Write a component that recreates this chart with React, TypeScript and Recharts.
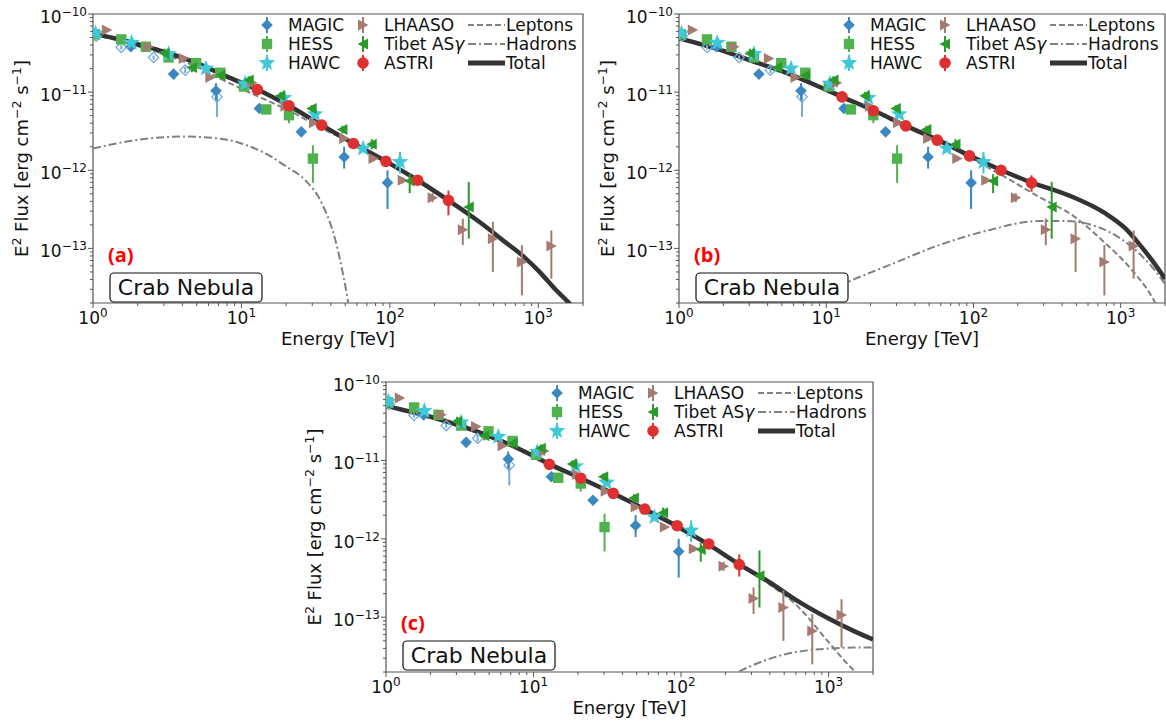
import React from 'react';
import { ComposedChart, Scatter, Line, XAxis, YAxis, ErrorBar, ReferenceArea } from 'recharts';

const FONT = "'DejaVu Sans', Verdana, sans-serif";
const AXIS = '#555555';

// ---------- tick values ----------
const xTicks = [1, 2, 3, 4, 5, 6, 7, 8, 9, 10, 20, 30, 40, 50, 60, 70, 80, 90, 100, 200, 300, 400, 500, 600, 700, 800, 900, 1000, 2000];
const yTicks = [
  2e-14, 3e-14, 4e-14, 5e-14, 6e-14, 7e-14, 8e-14, 9e-14,
  1e-13, 2e-13, 3e-13, 4e-13, 5e-13, 6e-13, 7e-13, 8e-13, 9e-13,
  1e-12, 2e-12, 3e-12, 4e-12, 5e-12, 6e-12, 7e-12, 8e-12, 9e-12,
  1e-11, 2e-11, 3e-11, 4e-11, 5e-11, 6e-11, 7e-11, 8e-11, 9e-11, 1e-10,
];
const xDomain = [1, 2000];
const yDomain = [2e-14, 1e-10];

// ---------- observational data (E in TeV, E^2 flux in erg cm^-2 s^-1) ----------
const magicE = [1.03, 1.8, 3.49, 6.74, 13.2, 25.3, 49.2, 96.4];
const magicF = [5.6e-11, 3.81e-11, 1.7e-11, 1.04e-11, 6.18e-12, 3.1e-12, 1.48e-12, 6.9e-13];
const magicLo = [5.3e-11, 3.6e-11, 1.6e-11, 7.6e-12, 5.8e-12, 2.85e-12, 1.05e-12, 3.2e-13];
const magicHi = [5.9e-11, 4.0e-11, 1.8e-11, 1.3e-11, 6.6e-12, 3.35e-12, 2.0e-12, 1.0e-12];

const magicOpenE = [1.05, 1.55, 2.56, 4.18, 6.85];
const magicOpenF = [5.2e-11, 3.74e-11, 2.78e-11, 1.91e-11, 8.7e-12];
const magicOpenLo = [4.95e-11, 3.5e-11, 2.6e-11, 1.75e-11, 4.8e-12];
const magicOpenHi = [5.45e-11, 4.0e-11, 2.95e-11, 2.1e-11, 1.0e-11];

const hessE = [1.03, 1.55, 2.27, 3.23, 4.95, 7.2, 10.4, 14.7, 20.9, 30.3];
const hessF = [5.5e-11, 4.73e-11, 3.81e-11, 2.78e-11, 2.35e-11, 1.77e-11, 1.18e-11, 6.0e-12, 5.07e-12, 1.41e-12];
const hessLo = [5.2e-11, 4.45e-11, 3.6e-11, 2.6e-11, 2.2e-11, 1.62e-11, 1.08e-11, 5.4e-12, 4.0e-12, 6.9e-13];
const hessHi = [5.8e-11, 5.0e-11, 4.0e-11, 2.95e-11, 2.5e-11, 1.92e-11, 1.28e-11, 6.6e-12, 5.9e-12, 2.09e-12];

const hawcE = [1.04, 1.82, 3.23, 5.77, 10.6, 19.3, 31.3, 66.0, 117];
const hawcF = [5.65e-11, 4.28e-11, 3.07e-11, 2.01e-11, 1.29e-11, 8.45e-12, 5.22e-12, 1.9e-12, 1.28e-12];
const hawcLo = [5.4e-11, 4.05e-11, 2.9e-11, 1.9e-11, 1.2e-11, 7.9e-12, 4.85e-12, 1.72e-12, 9.05e-13];
const hawcHi = [5.9e-11, 4.5e-11, 3.25e-11, 2.12e-11, 1.38e-11, 9.0e-12, 5.6e-12, 2.08e-12, 1.72e-12];

const lhaasoE = [1.24, 2.37, 4.08, 6.17, 11.8, 19.8, 30.8, 49.2, 77.6, 122, 194, 310, 494, 775, 1224];
const lhaasoF = [6.24e-11, 3.81e-11, 2.7e-11, 1.54e-11, 1.32e-11, 6.62e-12, 4.05e-12, 2.55e-12, 1.41e-12, 7.45e-13, 4.46e-13, 1.73e-13, 1.33e-13, 6.68e-14, 1.07e-13];
const lhaasoLo = [5.9e-11, 3.6e-11, 2.55e-11, 1.45e-11, 1.15e-11, 6.2e-12, 3.8e-12, 2.35e-12, 1.3e-12, 6.8e-13, 3.9e-13, 1.1e-13, 5.0e-14, 2.5e-14, 4.1e-14];
const lhaasoHi = [6.6e-11, 4.0e-11, 2.85e-11, 1.65e-11, 1.5e-11, 7.1e-12, 4.3e-12, 2.75e-12, 1.52e-12, 8.1e-13, 5.1e-13, 2.4e-13, 2.2e-13, 1.1e-13, 1.7e-13];

const tibetE = [3.03, 4.64, 7.22, 11.2, 18.3, 29.7, 47.9, 75.5, 136, 340];
const tibetF = [3.13e-11, 2.07e-11, 1.65e-11, 1.43e-11, 8.97e-12, 6.18e-12, 3.32e-12, 2.15e-12, 7.3e-13, 3.39e-13];
const tibetLo = [2.7e-11, 1.8e-11, 1.45e-11, 1.28e-11, 8.1e-12, 5.6e-12, 2.95e-12, 1.85e-12, 5.1e-13, 1.33e-13];
const tibetHi = [3.6e-11, 2.35e-11, 1.85e-11, 1.6e-11, 1.0e-11, 6.8e-12, 3.7e-12, 2.5e-12, 8.9e-13, 7.1e-13];

// ASTRI points (one set per model panel)
const astriE = [12.8, 20.9, 34.7, 56.8, 94.0, 154, 248];
const astriFA = [1.08e-11, 6.68e-12, 3.78e-12, 2.2e-12, 1.3e-12, 7.45e-13, 4.12e-13];
const astriLoA = [1.0e-11, 6.2e-12, 3.5e-12, 2.05e-12, 1.18e-12, 6.6e-13, 2.65e-13];
const astriHiA = [1.16e-11, 7.2e-12, 4.05e-12, 2.35e-12, 1.42e-12, 8.4e-13, 5.5e-13];
const astriFB = [8.7e-12, 5.77e-12, 3.7e-12, 2.43e-12, 1.53e-12, 1.0e-12, 6.9e-13];
const astriLoB = [8.1e-12, 5.35e-12, 3.45e-12, 2.27e-12, 1.4e-12, 8.9e-13, 5.3e-13];
const astriHiB = [9.3e-12, 6.2e-12, 3.95e-12, 2.6e-12, 1.66e-12, 1.12e-12, 8.6e-13];
const astriFC = [8.9e-12, 5.93e-12, 3.8e-12, 2.39e-12, 1.47e-12, 8.6e-13, 4.68e-13];
const astriLoC = [8.3e-12, 5.5e-12, 3.55e-12, 2.23e-12, 1.35e-12, 7.6e-13, 3.3e-13];
const astriHiC = [9.5e-12, 6.35e-12, 4.05e-12, 2.55e-12, 1.6e-12, 9.7e-13, 6.3e-13];

// ---------- model curves ----------
const totAE = [1, 1.5, 2, 3, 5, 8, 12.8, 20.9, 34.7, 56.8, 94, 154, 248, 400, 600, 800, 1000, 1300, 1650, 2000];
const totAF = [5.6e-11, 4.75e-11, 4.1e-11, 3.3e-11, 2.35e-11, 1.58e-11, 1.08e-11, 6.68e-12, 3.78e-12, 2.2e-12, 1.3e-12, 7.45e-13, 4.12e-13, 2.19e-13, 1.2e-13, 7.8e-14, 5.2e-14, 3.0e-14, 1.9e-14, 1.2e-14];
const lepAE = [1, 1.5, 2, 3, 5, 8, 12.8, 20.9, 34.7, 56.8, 94, 154, 248, 400, 600, 800, 1000, 1300, 1650, 2000];
const lepAF = [5.4e-11, 4.52e-11, 3.86e-11, 3.05e-11, 2.1e-11, 1.35e-11, 8.9e-12, 5.8e-12, 3.45e-12, 2.18e-12, 1.3e-12, 7.45e-13, 4.12e-13, 2.19e-13, 1.2e-13, 7.8e-14, 5.2e-14, 3.0e-14, 1.9e-14, 1.2e-14];
const hadAE = [1, 2, 4, 7, 10, 16, 20, 27, 35, 43, 48, 52, 56];
const hadAF = [1.9e-12, 2.45e-12, 2.7e-12, 2.55e-12, 2.2e-12, 1.48e-12, 1.12e-12, 7.4e-13, 3.7e-13, 1.26e-13, 5.0e-14, 2.2e-14, 8e-15];

const totBE = [1, 2, 3, 5, 8, 12.8, 21.2, 34.8, 57.6, 94.4, 155, 251, 342, 468, 788, 1076, 1325, 1630, 2000];
const totBF = [4.87e-11, 3.38e-11, 2.57e-11, 1.86e-11, 1.29e-11, 8.7e-12, 5.77e-12, 3.7e-12, 2.43e-12, 1.53e-12, 1.0e-12, 6.9e-13, 5.7e-13, 4.58e-13, 2.8e-13, 1.8e-13, 1.16e-13, 7.07e-14, 4.1e-14];
const lepBE = [1, 2, 3, 5, 8, 12.8, 21.2, 34.8, 57.6, 94.4, 155, 278, 468, 788, 1194, 1630, 1720, 2000];
const lepBF = [4.87e-11, 3.38e-11, 2.57e-11, 1.86e-11, 1.29e-11, 8.7e-12, 5.77e-12, 3.68e-12, 2.37e-12, 1.45e-12, 8.7e-13, 4.58e-13, 2.67e-13, 1.16e-13, 5.27e-14, 2.4e-14, 2.0e-14, 1.2e-14];
const hadBE = [5, 6.6, 10, 13.6, 28.2, 58.4, 127, 278, 422, 788, 1194, 1630, 2000];
const hadBF = [1.4e-14, 2.0e-14, 2.7e-14, 3.6e-14, 6.35e-14, 1.1e-13, 1.71e-13, 2.24e-13, 2.24e-13, 1.71e-13, 1.04e-13, 5.8e-14, 3.5e-14];

const totCE = [1, 2, 5, 8, 12.9, 20.9, 34.5, 56.6, 92.5, 151, 250, 400, 600, 1000, 1500, 2000];
const totCF = [4.96e-11, 3.6e-11, 2.04e-11, 1.4e-11, 8.9e-12, 5.93e-12, 3.8e-12, 2.39e-12, 1.47e-12, 8.6e-13, 4.68e-13, 2.77e-13, 1.66e-13, 9.6e-14, 6.6e-14, 5.2e-14];
const lepCE = [1, 2, 5, 8, 12.9, 20.9, 34.5, 56.6, 92.5, 151, 250, 400, 600, 1000, 1300, 1700, 2000];
const lepCF = [4.96e-11, 3.6e-11, 2.04e-11, 1.4e-11, 8.9e-12, 5.93e-12, 3.8e-12, 2.39e-12, 1.47e-12, 8.6e-13, 4.6e-13, 2.6e-13, 1.45e-13, 4.8e-14, 2.7e-14, 1.6e-14, 1.1e-14];
const hadCE = [200, 244, 300, 518, 942, 1500, 2000];
const hadCF = [1.6e-14, 2.0e-14, 2.4e-14, 3.4e-14, 3.95e-14, 4.1e-14, 4.1e-14];

// ---------- colours ----------
const C_MAGIC = '#3a87c2';
const C_MAGIC_OPEN = '#74acd8';
const C_HESS = '#4fb24f';
const C_HAWC = '#3fc8d8';
const C_LHAASO = '#a57a70';
const C_TIBET = '#2a9a2a';
const C_ASTRI = '#dd3030';
const C_LINE = '#808080';
const C_TOTAL = '#333333';

// ---------- helpers ----------
const pts = (E: number[], F: number[], lo: number[], hi: number[]) =>
  E.map((e, i) => ({ e, f: F[i], err: [F[i] - lo[i], hi[i] - F[i]] }));
const curve = (E: number[], F: number[]) => E.map((e, i) => ({ e, f: F[i] }));

const starPath = (cx: number, cy: number, R: number) => {
  let d = '';
  for (let i = 0; i < 10; i++) {
    const r = i % 2 === 0 ? R : R * 0.42;
    const a = -Math.PI / 2 + (i * Math.PI) / 5;
    d += (i === 0 ? 'M' : 'L') + (cx + r * Math.cos(a)).toFixed(2) + ',' + (cy + r * Math.sin(a)).toFixed(2);
  }
  return d + 'Z';
};

const drawMarker = (kind: string, cx: number, cy: number) => {
  switch (kind) {
    case 'diamond':
      return <path d={`M${cx},${cy - 5.8}L${cx + 5.8},${cy}L${cx},${cy + 5.8}L${cx - 5.8},${cy}Z`} fill={C_MAGIC} />;
    case 'diamondOpen':
      return <path d={`M${cx},${cy - 5.2}L${cx + 5.2},${cy}L${cx},${cy + 5.2}L${cx - 5.2},${cy}Z`} fill="none" stroke={C_MAGIC_OPEN} strokeWidth={1.3} />;
    case 'square':
      return <rect x={cx - 5.2} y={cy - 5.2} width={10.4} height={10.4} fill={C_HESS} />;
    case 'star':
      return <path d={starPath(cx, cy, 8.8)} fill={C_HAWC} />;
    case 'triRight':
      return <path d={`M${cx + 5.5},${cy}L${cx - 5},${cy - 5.5}L${cx - 5},${cy + 5.5}Z`} fill={C_LHAASO} />;
    case 'triLeft':
      return <path d={`M${cx - 5.5},${cy}L${cx + 5},${cy - 5.5}L${cx + 5},${cy + 5.5}Z`} fill={C_TIBET} />;
    case 'circle':
      return <circle cx={cx} cy={cy} r={5.8} fill={C_ASTRI} />;
    default:
      return null;
  }
};

const shapeOf = (kind: string) => (props: any) => {
  if (props.cx == null || props.cy == null) return <g />;
  return <g>{drawMarker(kind, props.cx, props.cy)}</g>;
};

const expStr = (e: number) => (e < 0 ? '\u2212' + Math.abs(e) : String(e));

const XTick = (props: any) => {
  const { x, y, payload } = props;
  const v = payload.value as number;
  const lg = Math.log10(v);
  const e = Math.round(lg);
  const major = Math.abs(lg - e) < 1e-6;
  return (
    <g>
      <line x1={x} x2={x} y1={y} y2={y + (major ? 5 : 3)} stroke={AXIS} strokeWidth={1} />
      {major && (
        <text x={x} y={y + 21} textAnchor="middle" fontFamily={FONT} fontSize={17} fill="#111">
          10<tspan dy={-7} fontSize={12}>{expStr(e)}</tspan>
        </text>
      )}
    </g>
  );
};

const YTick = (props: any) => {
  const { x, y, payload } = props;
  const v = payload.value as number;
  const lg = Math.log10(v);
  const e = Math.round(lg);
  const major = Math.abs(lg - e) < 1e-6;
  return (
    <g>
      <line x1={x} x2={x - (major ? 5 : 3)} y1={y} y2={y} stroke={AXIS} strokeWidth={1} />
      {major && (
        <text x={x - 6} y={y + 9} textAnchor="end" fontFamily={FONT} fontSize={17} fill="#111">
          10<tspan dy={-7} fontSize={12}>{expStr(e)}</tspan>
        </text>
      )}
    </g>
  );
};

type PanelDef = {
  tag: string;
  left: number;
  top: number;
  w: number;
  h: number;
  astri: { e: number; f: number; err: number[] }[];
  tot: { e: number; f: number }[];
  lep: { e: number; f: number }[];
  had: { e: number; f: number }[];
};

const panels: PanelDef[] = [
  { tag: '(a)', left: 93, top: 14, w: 490, h: 289, astri: pts(astriE, astriFA, astriLoA, astriHiA), tot: curve(totAE, totAF), lep: curve(lepAE, lepAF), had: curve(hadAE, hadAF) },
  { tag: '(b)', left: 679, top: 14, w: 486, h: 289, astri: pts(astriE, astriFB, astriLoB, astriHiB), tot: curve(totBE, totBF), lep: curve(lepBE, lepBF), had: curve(hadBE, hadBF) },
  { tag: '(c)', left: 386, top: 382, w: 487, h: 290, astri: pts(astriE, astriFC, astriLoC, astriHiC), tot: curve(totCE, totCF), lep: curve(lepCE, lepCF), had: curve(hadCE, hadCF) },
];

const magicPts = pts(magicE, magicF, magicLo, magicHi);
const magicOpenPts = pts(magicOpenE, magicOpenF, magicOpenLo, magicOpenHi);
const hessPts = pts(hessE, hessF, hessLo, hessHi);
const hawcPts = pts(hawcE, hawcF, hawcLo, hawcHi);
const lhaasoPts = pts(lhaasoE, lhaasoF, lhaasoLo, lhaasoHi);
const tibetPts = pts(tibetE, tibetF, tibetLo, tibetHi);

const legendCols = [
  [
    { label: 'MAGIC', kind: 'diamond', color: C_MAGIC },
    { label: 'HESS', kind: 'square', color: C_HESS },
    { label: 'HAWC', kind: 'star', color: C_HAWC },
  ],
  [
    { label: 'LHAASO', kind: 'triRight', color: C_LHAASO },
    { label: 'Tibet AS', kind: 'triLeft', color: C_TIBET, greek: '\u03b3' },
    { label: 'ASTRI', kind: 'circle', color: C_ASTRI },
  ],
];
const legendLines = [
  { label: 'Leptons', dash: '6 3', width: 2, color: C_LINE },
  { label: 'Hadrons', dash: '8 3 2 3', width: 2, color: C_LINE },
  { label: 'Total', dash: undefined, width: 5, color: C_TOTAL },
];

const Overlay = ({ p }: { p: PanelDef }) => {
  const rows = [11, 30, 49];
  const colX = [p.w - 316, p.w - 220];
  return (
    <svg
      width={p.w}
      height={p.h + 60}
      style={{ position: 'absolute', left: 90, top: 14, overflow: 'visible', pointerEvents: 'none' }}
    >
      {legendCols.map((col, ci) =>
        col.map((it: any, ri) => (
          <g key={`${ci}-${ri}`}>
            <line x1={colX[ci]} x2={colX[ci]} y1={rows[ri] - 8} y2={rows[ri] + 8} stroke={it.color} strokeWidth={2} />
            {drawMarker(it.kind, colX[ci], rows[ri])}
            <text x={colX[ci] + 21} y={rows[ri] + 6.3} fontFamily={FONT} fontSize={17} fill="#111">
              {it.label}
              {it.greek && <tspan fontStyle="italic">{it.greek}</tspan>}
            </text>
          </g>
        ))
      )}
      {legendLines.map((it, ri) => (
        <g key={it.label}>
          <line x1={p.w - 115} x2={p.w - 78} y1={rows[ri]} y2={rows[ri]} stroke={it.color} strokeWidth={it.width} strokeDasharray={it.dash} />
          <text x={p.w - 77} y={rows[ri] + 6.3} fontFamily={FONT} fontSize={17} fill="#111">
            {it.label}
          </text>
        </g>
      ))}
      <text x={15} y={248} fontFamily="'Open Sans', 'Liberation Sans', sans-serif" fontWeight="bold" fontSize={20} fill="#ff0000">
        {p.tag}
      </text>
      <rect x={17} y={259} width={152} height={29} rx={4} ry={4} fill="#ffffff" stroke="#111" strokeWidth={1.2} />
      <text x={93} y={281} textAnchor="middle" fontFamily={FONT} fontSize={22} fill="#111">
        Crab Nebula
      </text>
      <text x={p.w / 2} y={p.h + 42} textAnchor="middle" fontFamily={FONT} fontSize={18} fill="#111">
        Energy [TeV]
      </text>
      <text transform={`translate(-65, ${p.h / 2}) rotate(-90)`} textAnchor="middle" fontFamily={FONT} fontSize={18} fill="#111">
        E<tspan dy={-7} fontSize={12.5}>2</tspan>
        <tspan dy={7}> Flux [erg cm</tspan>
        <tspan dy={-7} fontSize={12.5}>{'\u22122'}</tspan>
        <tspan dy={7}> s</tspan>
        <tspan dy={-7} fontSize={12.5}>{'\u22121'}</tspan>
        <tspan dy={7}>]</tspan>
      </text>
    </svg>
  );
};

const PanelChart = ({ p }: { p: PanelDef }) => {
  const yW = 90;
  const W = p.w + yW + 1;
  const H = p.h + 14 + 60;
  return (
    <div style={{ position: 'absolute', left: p.left - yW, top: p.top - 14, width: W, height: H }}>
      <ComposedChart width={W} height={H} margin={{ top: 14, right: 1, left: 0, bottom: 0 }}>
        <XAxis
          dataKey="e"
          type="number"
          scale="log"
          domain={xDomain}
          allowDataOverflow
          ticks={xTicks}
          interval={0}
          tickSize={0}
          tickMargin={0}
          axisLine={false}
          tickLine={false}
          tick={<XTick />}
          height={60}
        />
        <YAxis
          dataKey="f"
          type="number"
          scale="log"
          domain={yDomain}
          allowDataOverflow
          ticks={yTicks}
          interval={0}
          tickSize={0}
          tickMargin={0}
          axisLine={false}
          tickLine={false}
          tick={<YTick />}
          width={yW}
        />
        <Line data={p.had} dataKey="f" type="monotone" dot={false} stroke={C_LINE} strokeWidth={2} strokeDasharray="8 3 2 3" isAnimationActive={false} />
        <Line data={p.lep} dataKey="f" type="monotone" dot={false} stroke={C_LINE} strokeWidth={2} strokeDasharray="6 3" isAnimationActive={false} />
        <Line data={p.tot} dataKey="f" type="monotone" dot={false} stroke={C_TOTAL} strokeWidth={4.5} isAnimationActive={false} />
        <Scatter data={magicOpenPts} dataKey="f" shape={shapeOf('diamondOpen')} isAnimationActive={false}>
          <ErrorBar dataKey="err" direction="y" width={0} stroke={C_MAGIC_OPEN} strokeWidth={2} />
        </Scatter>
        <Scatter data={magicPts} dataKey="f" shape={shapeOf('diamond')} isAnimationActive={false}>
          <ErrorBar dataKey="err" direction="y" width={0} stroke={C_MAGIC} strokeWidth={2} />
        </Scatter>
        <Scatter data={hessPts} dataKey="f" shape={shapeOf('square')} isAnimationActive={false}>
          <ErrorBar dataKey="err" direction="y" width={0} stroke={C_HESS} strokeWidth={2} />
        </Scatter>
        <Scatter data={hawcPts} dataKey="f" shape={shapeOf('star')} isAnimationActive={false}>
          <ErrorBar dataKey="err" direction="y" width={0} stroke={C_HAWC} strokeWidth={2} />
        </Scatter>
        <Scatter data={lhaasoPts} dataKey="f" shape={shapeOf('triRight')} isAnimationActive={false}>
          <ErrorBar dataKey="err" direction="y" width={0} stroke={C_LHAASO} strokeWidth={2} />
        </Scatter>
        <Scatter data={tibetPts} dataKey="f" shape={shapeOf('triLeft')} isAnimationActive={false}>
          <ErrorBar dataKey="err" direction="y" width={0} stroke={C_TIBET} strokeWidth={2} />
        </Scatter>
        <Scatter data={p.astri} dataKey="f" shape={shapeOf('circle')} isAnimationActive={false}>
          <ErrorBar dataKey="err" direction="y" width={0} stroke={C_ASTRI} strokeWidth={2} />
        </Scatter>
        <ReferenceArea x1={xDomain[0]} x2={xDomain[1]} y1={yDomain[0]} y2={yDomain[1]} fill="none" fillOpacity={0} stroke={AXIS} strokeWidth={1.2} ifOverflow="visible" />
      </ComposedChart>
      <Overlay p={p} />
    </div>
  );
};

export default function App() {
  return (
    <div style={{ position: 'absolute', left: 0, top: 0, width: 1166, height: 722, background: '#ffffff', overflow: 'hidden' }}>
      {panels.map((p) => (
        <PanelChart key={p.tag} p={p} />
      ))}
    </div>
  );
}
